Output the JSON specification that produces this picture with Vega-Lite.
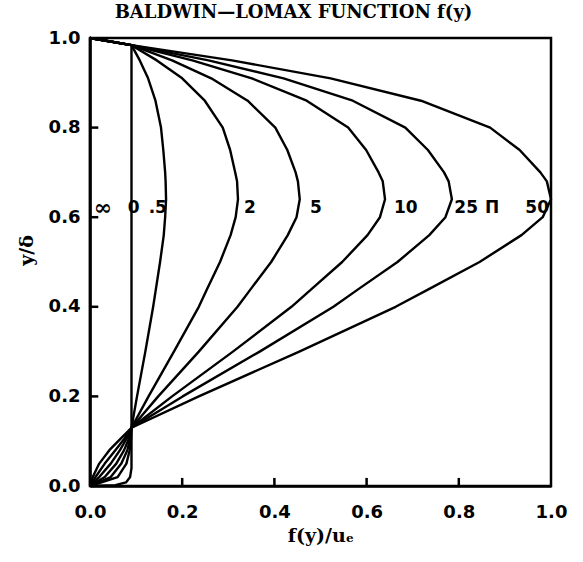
{
  "$schema": "https://vega.github.io/schema/vega-lite/v6.json",
  "width": 461,
  "height": 448,
  "autosize": {"type": "none"},
  "padding": {"left": 90, "top": 38, "right": 32, "bottom": 76},
  "background": "white",
  "title": {
    "text": "BALDWIN—LOMAX FUNCTION f(y)",
    "font": "DejaVu Serif",
    "fontWeight": "bold",
    "fontSize": 18,
    "color": "black",
    "anchor": "middle",
    "dx": -27,
    "offset": 7
  },
  "config": {
    "view": {"stroke": "black", "strokeWidth": 2.5},
    "axis": {
      "grid": false,
      "domainColor": "black",
      "domainWidth": 2.5,
      "ticks": false,
      "tickSize": 0,
      "labelFont": "DejaVu Sans",
      "labelFontWeight": "bold",
      "labelFontSize": 18,
      "labelColor": "black",
      "labelFlush": false,
      "labelOverlap": false,
      "labelBound": false,
      "titleFont": "DejaVu Serif",
      "titleFontWeight": "bold",
      "titleFontSize": 19,
      "titleColor": "black"
    }
  },
  "datasets": {
    "curves": [
      {"c": "inf", "i": 0, "x": 0, "y": 0},
      {"c": "inf", "i": 1, "x": 0, "y": 1},

      {"c": "0", "i": 0, "x": 0, "y": 0},
      {"c": "0", "i": 1, "x": 0.055, "y": 0.002},
      {"c": "0", "i": 2, "x": 0.078, "y": 0.008},
      {"c": "0", "i": 3, "x": 0.087, "y": 0.02},
      {"c": "0", "i": 4, "x": 0.09, "y": 0.04},
      {"c": "0", "i": 5, "x": 0.09, "y": 0.13},
      {"c": "0", "i": 6, "x": 0.09, "y": 0.984},
      {"c": "0", "i": 7, "x": 0, "y": 1},

      {"c": "0.5", "i": 0, "x": 0, "y": 0},
      {"c": "0.5", "i": 1, "x": 0.06, "y": 0.02},
      {"c": "0.5", "i": 2, "x": 0.079, "y": 0.05},
      {"c": "0.5", "i": 3, "x": 0.086, "y": 0.08},
      {"c": "0.5", "i": 4, "x": 0.089, "y": 0.105},
      {"c": "0.5", "i": 5, "x": 0.09, "y": 0.13},
      {"c": "0.5", "i": 6, "x": 0.102, "y": 0.2},
      {"c": "0.5", "i": 7, "x": 0.12, "y": 0.3},
      {"c": "0.5", "i": 8, "x": 0.137, "y": 0.4},
      {"c": "0.5", "i": 9, "x": 0.143, "y": 0.44},
      {"c": "0.5", "i": 10, "x": 0.152, "y": 0.5},
      {"c": "0.5", "i": 11, "x": 0.16, "y": 0.56},
      {"c": "0.5", "i": 12, "x": 0.163, "y": 0.6},
      {"c": "0.5", "i": 13, "x": 0.165, "y": 0.64},
      {"c": "0.5", "i": 14, "x": 0.164, "y": 0.68},
      {"c": "0.5", "i": 15, "x": 0.163, "y": 0.7},
      {"c": "0.5", "i": 16, "x": 0.159, "y": 0.75},
      {"c": "0.5", "i": 17, "x": 0.154, "y": 0.8},
      {"c": "0.5", "i": 18, "x": 0.142, "y": 0.86},
      {"c": "0.5", "i": 19, "x": 0.126, "y": 0.91},
      {"c": "0.5", "i": 20, "x": 0.108, "y": 0.95},
      {"c": "0.5", "i": 21, "x": 0.09, "y": 0.984},
      {"c": "0.5", "i": 22, "x": 0, "y": 1},

      {"c": "2", "i": 0, "x": 0, "y": 0},
      {"c": "2", "i": 1, "x": 0.045, "y": 0.02},
      {"c": "2", "i": 2, "x": 0.068, "y": 0.05},
      {"c": "2", "i": 3, "x": 0.081, "y": 0.08},
      {"c": "2", "i": 4, "x": 0.087, "y": 0.105},
      {"c": "2", "i": 5, "x": 0.09, "y": 0.13},
      {"c": "2", "i": 6, "x": 0.127, "y": 0.2},
      {"c": "2", "i": 7, "x": 0.182, "y": 0.3},
      {"c": "2", "i": 8, "x": 0.236, "y": 0.4},
      {"c": "2", "i": 9, "x": 0.254, "y": 0.44},
      {"c": "2", "i": 10, "x": 0.282, "y": 0.5},
      {"c": "2", "i": 11, "x": 0.305, "y": 0.56},
      {"c": "2", "i": 12, "x": 0.316, "y": 0.6},
      {"c": "2", "i": 13, "x": 0.321, "y": 0.64},
      {"c": "2", "i": 14, "x": 0.319, "y": 0.68},
      {"c": "2", "i": 15, "x": 0.315, "y": 0.7},
      {"c": "2", "i": 16, "x": 0.304, "y": 0.75},
      {"c": "2", "i": 17, "x": 0.288, "y": 0.8},
      {"c": "2", "i": 18, "x": 0.249, "y": 0.86},
      {"c": "2", "i": 19, "x": 0.2, "y": 0.91},
      {"c": "2", "i": 20, "x": 0.145, "y": 0.95},
      {"c": "2", "i": 21, "x": 0.09, "y": 0.984},
      {"c": "2", "i": 22, "x": 0, "y": 1},

      {"c": "5", "i": 0, "x": 0, "y": 0},
      {"c": "5", "i": 1, "x": 0.032, "y": 0.02},
      {"c": "5", "i": 2, "x": 0.057, "y": 0.05},
      {"c": "5", "i": 3, "x": 0.074, "y": 0.08},
      {"c": "5", "i": 4, "x": 0.084, "y": 0.105},
      {"c": "5", "i": 5, "x": 0.09, "y": 0.13},
      {"c": "5", "i": 6, "x": 0.148, "y": 0.2},
      {"c": "5", "i": 7, "x": 0.236, "y": 0.3},
      {"c": "5", "i": 8, "x": 0.32, "y": 0.4},
      {"c": "5", "i": 9, "x": 0.349, "y": 0.44},
      {"c": "5", "i": 10, "x": 0.393, "y": 0.5},
      {"c": "5", "i": 11, "x": 0.429, "y": 0.56},
      {"c": "5", "i": 12, "x": 0.448, "y": 0.6},
      {"c": "5", "i": 13, "x": 0.455, "y": 0.64},
      {"c": "5", "i": 14, "x": 0.451, "y": 0.68},
      {"c": "5", "i": 15, "x": 0.446, "y": 0.7},
      {"c": "5", "i": 16, "x": 0.428, "y": 0.75},
      {"c": "5", "i": 17, "x": 0.402, "y": 0.8},
      {"c": "5", "i": 18, "x": 0.342, "y": 0.86},
      {"c": "5", "i": 19, "x": 0.263, "y": 0.91},
      {"c": "5", "i": 20, "x": 0.178, "y": 0.95},
      {"c": "5", "i": 21, "x": 0.09, "y": 0.984},
      {"c": "5", "i": 22, "x": 0, "y": 1},

      {"c": "10", "i": 0, "x": 0, "y": 0},
      {"c": "10", "i": 1, "x": 0.02, "y": 0.02},
      {"c": "10", "i": 2, "x": 0.045, "y": 0.05},
      {"c": "10", "i": 3, "x": 0.065, "y": 0.08},
      {"c": "10", "i": 4, "x": 0.079, "y": 0.105},
      {"c": "10", "i": 5, "x": 0.09, "y": 0.13},
      {"c": "10", "i": 6, "x": 0.178, "y": 0.2},
      {"c": "10", "i": 7, "x": 0.31, "y": 0.3},
      {"c": "10", "i": 8, "x": 0.437, "y": 0.4},
      {"c": "10", "i": 9, "x": 0.481, "y": 0.44},
      {"c": "10", "i": 10, "x": 0.547, "y": 0.5},
      {"c": "10", "i": 11, "x": 0.602, "y": 0.56},
      {"c": "10", "i": 12, "x": 0.629, "y": 0.6},
      {"c": "10", "i": 13, "x": 0.64, "y": 0.64},
      {"c": "10", "i": 14, "x": 0.635, "y": 0.68},
      {"c": "10", "i": 15, "x": 0.626, "y": 0.7},
      {"c": "10", "i": 16, "x": 0.599, "y": 0.75},
      {"c": "10", "i": 17, "x": 0.56, "y": 0.8},
      {"c": "10", "i": 18, "x": 0.47, "y": 0.86},
      {"c": "10", "i": 19, "x": 0.351, "y": 0.91},
      {"c": "10", "i": 20, "x": 0.222, "y": 0.95},
      {"c": "10", "i": 21, "x": 0.09, "y": 0.984},
      {"c": "10", "i": 22, "x": 0, "y": 1},

      {"c": "25", "i": 0, "x": 0, "y": 0},
      {"c": "25", "i": 1, "x": 0.012, "y": 0.02},
      {"c": "25", "i": 2, "x": 0.032, "y": 0.05},
      {"c": "25", "i": 3, "x": 0.055, "y": 0.08},
      {"c": "25", "i": 4, "x": 0.074, "y": 0.105},
      {"c": "25", "i": 5, "x": 0.09, "y": 0.13},
      {"c": "25", "i": 6, "x": 0.201, "y": 0.2},
      {"c": "25", "i": 7, "x": 0.368, "y": 0.3},
      {"c": "25", "i": 8, "x": 0.528, "y": 0.4},
      {"c": "25", "i": 9, "x": 0.583, "y": 0.44},
      {"c": "25", "i": 10, "x": 0.667, "y": 0.5},
      {"c": "25", "i": 11, "x": 0.736, "y": 0.56},
      {"c": "25", "i": 12, "x": 0.771, "y": 0.6},
      {"c": "25", "i": 13, "x": 0.785, "y": 0.64},
      {"c": "25", "i": 14, "x": 0.778, "y": 0.68},
      {"c": "25", "i": 15, "x": 0.768, "y": 0.7},
      {"c": "25", "i": 16, "x": 0.733, "y": 0.75},
      {"c": "25", "i": 17, "x": 0.684, "y": 0.8},
      {"c": "25", "i": 18, "x": 0.57, "y": 0.86},
      {"c": "25", "i": 19, "x": 0.42, "y": 0.91},
      {"c": "25", "i": 20, "x": 0.257, "y": 0.95},
      {"c": "25", "i": 21, "x": 0.09, "y": 0.984},
      {"c": "25", "i": 22, "x": 0, "y": 1},

      {"c": "50", "i": 0, "x": 0, "y": 0},
      {"c": "50", "i": 1, "x": 0.006, "y": 0.02},
      {"c": "50", "i": 2, "x": 0.02, "y": 0.05},
      {"c": "50", "i": 3, "x": 0.042, "y": 0.08},
      {"c": "50", "i": 4, "x": 0.066, "y": 0.105},
      {"c": "50", "i": 5, "x": 0.09, "y": 0.13},
      {"c": "50", "i": 6, "x": 0.236, "y": 0.2},
      {"c": "50", "i": 7, "x": 0.454, "y": 0.3},
      {"c": "50", "i": 8, "x": 0.663, "y": 0.4},
      {"c": "50", "i": 9, "x": 0.736, "y": 0.44},
      {"c": "50", "i": 10, "x": 0.845, "y": 0.5},
      {"c": "50", "i": 11, "x": 0.936, "y": 0.56},
      {"c": "50", "i": 12, "x": 0.982, "y": 0.6},
      {"c": "50", "i": 13, "x": 1.0, "y": 0.64},
      {"c": "50", "i": 14, "x": 0.991, "y": 0.68},
      {"c": "50", "i": 15, "x": 0.977, "y": 0.7},
      {"c": "50", "i": 16, "x": 0.932, "y": 0.75},
      {"c": "50", "i": 17, "x": 0.868, "y": 0.8},
      {"c": "50", "i": 18, "x": 0.718, "y": 0.86},
      {"c": "50", "i": 19, "x": 0.522, "y": 0.91},
      {"c": "50", "i": 20, "x": 0.308, "y": 0.95},
      {"c": "50", "i": 21, "x": 0.09, "y": 0.984},
      {"c": "50", "i": 22, "x": 0, "y": 1}
    ],
    "labels": [
      {"t": "0", "x": 0.095, "y": 0.62},
      {"t": ".5", "x": 0.147, "y": 0.62},
      {"t": "2", "x": 0.347, "y": 0.62},
      {"t": "5", "x": 0.49, "y": 0.62},
      {"t": "10", "x": 0.685, "y": 0.62},
      {"t": "25", "x": 0.816, "y": 0.62},
      {"t": "Π", "x": 0.872, "y": 0.62},
      {"t": "50", "x": 0.97, "y": 0.62}
    ],
    "inflabel": [
      {"t": "∞", "x": 0.028, "y": 0.62}
    ],
    "tickvals": [
      {"v": 0.2, "lo": 0, "hi": 0.018},
      {"v": 0.4, "lo": 0, "hi": 0.018},
      {"v": 0.6, "lo": 0, "hi": 0.018},
      {"v": 0.8, "lo": 0, "hi": 0.018}
    ]
  },
  "layer": [
    {
      "data": {"name": "curves"},
      "mark": {"type": "line", "color": "black", "strokeWidth": 2.4, "strokeJoin": "round", "clip": false},
      "encoding": {
        "x": {
          "field": "x", "type": "quantitative",
          "scale": {"domain": [0, 1], "nice": false, "zero": false},
          "axis": {"title": "f(y)/uₑ", "values": [0, 0.2, 0.4, 0.6, 0.8, 1.0], "format": ".1f", "labelPadding": 17, "titleY": 55, "titleBaseline": "alphabetic"}
        },
        "y": {
          "field": "y", "type": "quantitative",
          "scale": {"domain": [0, 1], "nice": false, "zero": false},
          "axis": {"title": "y/δ", "values": [0, 0.2, 0.4, 0.6, 0.8, 1.0], "format": ".1f", "labelPadding": 10, "titleX": -64, "titleY": 212, "titleBaseline": "middle", "titleAngle": -90}
        },
        "detail": {"field": "c"},
        "order": {"field": "i", "type": "quantitative"}
      }
    },
    {
      "data": {"name": "tickvals"},
      "mark": {"type": "rule", "color": "black", "strokeWidth": 2.5},
      "encoding": {
        "x": {"field": "v", "type": "quantitative", "title": "f(y)/uₑ"},
        "y": {"field": "lo", "type": "quantitative", "title": "y/δ"},
        "y2": {"field": "hi"}
      }
    },
    {
      "data": {"name": "tickvals"},
      "mark": {"type": "rule", "color": "black", "strokeWidth": 2.5},
      "encoding": {
        "y": {"field": "v", "type": "quantitative", "title": "y/δ"},
        "x": {"field": "lo", "type": "quantitative", "title": "f(y)/uₑ"},
        "x2": {"field": "hi"}
      }
    },
    {
      "data": {"name": "labels"},
      "mark": {"type": "text", "font": "DejaVu Sans", "fontWeight": "bold", "fontSize": 17, "color": "black", "align": "center", "baseline": "middle"},
      "encoding": {
        "x": {"field": "x", "type": "quantitative", "title": "f(y)/uₑ"},
        "y": {"field": "y", "type": "quantitative", "title": "y/δ"},
        "text": {"field": "t"}
      }
    },
    {
      "data": {"name": "inflabel"},
      "mark": {"type": "text", "font": "DejaVu Serif", "fontWeight": "bold", "fontSize": 22, "color": "black", "align": "center", "baseline": "middle"},
      "encoding": {
        "x": {"field": "x", "type": "quantitative", "title": "f(y)/uₑ"},
        "y": {"field": "y", "type": "quantitative", "title": "y/δ"},
        "text": {"field": "t"}
      }
    }
  ]
}
